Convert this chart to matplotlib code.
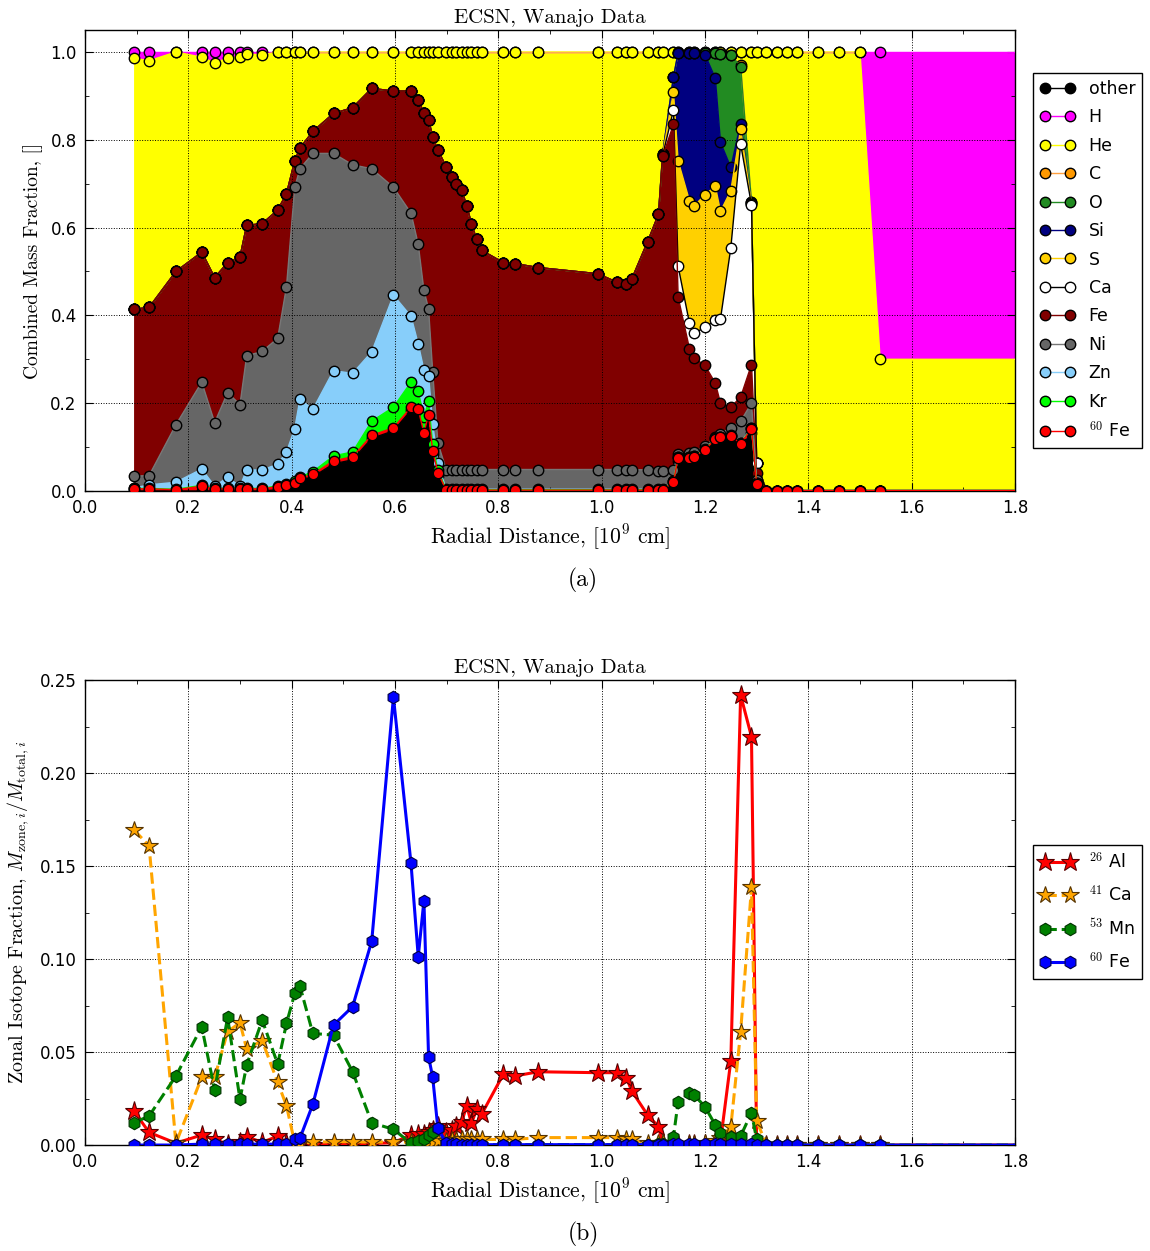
import numpy as np
import matplotlib
matplotlib.use("Agg")
import matplotlib.pyplot as plt
from matplotlib.ticker import AutoMinorLocator

plt.rcParams['mathtext.fontset'] = 'cm'
plt.rcParams['font.family'] = ['DejaVu Sans']
SERIF = 'cmr10'

# zone radii [1e9 cm]; last entry is the outer boundary (no marker)
radius = [0.095, 0.124, 0.176, 0.226, 0.251, 0.276, 0.300, 0.313, 0.343, 0.373,
          0.390, 0.406, 0.416, 0.441, 0.481, 0.518, 0.555, 0.597, 0.631, 0.645,
          0.656, 0.665, 0.673, 0.683, 0.699, 0.710, 0.719, 0.729, 0.739, 0.748,
          0.758, 0.768, 0.810, 0.832, 0.877, 0.992, 1.029, 1.048, 1.058, 1.089,
          1.110, 1.118, 1.139, 1.148, 1.170, 1.179, 1.200, 1.220, 1.230, 1.250,
          1.269, 1.290, 1.300, 1.319, 1.340, 1.359, 1.379, 1.419, 1.460, 1.500,
          1.539, 1.800]

# cumulative (stacked) mass fraction tops, panel (a)
top_other = [0, 0, 0, 0, 0, 0, 0, 0, 0, 0.003,
             0.008, 0.015, 0.024, 0.032, 0.062, 0.071, 0.120, 0.137, 0.184, 0.180,
             0.125, 0.167, 0.085, 0.035, 0, 0, 0, 0, 0, 0,
             0, 0, 0, 0, 0, 0, 0, 0, 0, 0,
             0, 0, 0.015, 0.068, 0.068, 0.070, 0.085, 0.110, 0.113, 0.116,
             0.100, 0.132, 0.010, 0, 0, 0, 0, 0, 0, 0,
             0, 0]
top_fe60 = [0.005, 0.005, 0.003, 0.011, 0.005, 0.005, 0.005, 0.005, 0.005, 0.010,
            0.014, 0.019, 0.029, 0.038, 0.069, 0.078, 0.127, 0.144, 0.191, 0.186,
            0.132, 0.174, 0.091, 0.042, 0.002, 0.002, 0.002, 0.002, 0.002, 0.002,
            0.002, 0.002, 0.002, 0.002, 0.002, 0.002, 0.002, 0.002, 0.002, 0.002,
            0.002, 0.002, 0.021, 0.076, 0.076, 0.078, 0.093, 0.119, 0.122, 0.125,
            0.108, 0.142, 0.017, 0.001, 0.001, 0.001, 0.001, 0.001, 0.001, 0.001,
            0.001, 0.001]
top_kr = [0.006, 0.006, 0.004, 0.013, 0.006, 0.006, 0.006, 0.006, 0.006, 0.012,
          0.016, 0.022, 0.032, 0.044, 0.080, 0.089, 0.159, 0.191, 0.248, 0.227,
          0.169, 0.204, 0.106, 0.048, 0.003, 0.003, 0.003, 0.003, 0.003, 0.003,
          0.003, 0.003, 0.003, 0.003, 0.003, 0.003, 0.003, 0.003, 0.003, 0.003,
          0.003, 0.003, 0.022, 0.077, 0.077, 0.079, 0.094, 0.120, 0.123, 0.126,
          0.109, 0.143, 0.018, 0.001, 0.001, 0.001, 0.001, 0.001, 0.001, 0.001,
          0.001, 0.001]
top_zn = [0.007, 0.014, 0.020, 0.050, 0.011, 0.031, 0.011, 0.048, 0.048, 0.061,
          0.089, 0.142, 0.209, 0.186, 0.274, 0.268, 0.317, 0.446, 0.398, 0.335,
          0.276, 0.263, 0.153, 0.064, 0.004, 0.004, 0.004, 0.004, 0.004, 0.004,
          0.004, 0.004, 0.004, 0.004, 0.004, 0.004, 0.004, 0.004, 0.004, 0.004,
          0.004, 0.004, 0.023, 0.078, 0.078, 0.080, 0.095, 0.121, 0.124, 0.127,
          0.110, 0.144, 0.019, 0.001, 0.001, 0.001, 0.001, 0.001, 0.001, 0.001,
          0.001, 0.001]
top_ni = [0.034, 0.035, 0.151, 0.248, 0.156, 0.224, 0.197, 0.308, 0.318, 0.348,
          0.465, 0.692, 0.734, 0.769, 0.769, 0.743, 0.734, 0.692, 0.633, 0.562,
          0.457, 0.415, 0.271, 0.110, 0.049, 0.049, 0.049, 0.049, 0.049, 0.049,
          0.049, 0.049, 0.049, 0.049, 0.049, 0.049, 0.049, 0.049, 0.049, 0.048,
          0.046, 0.045, 0.048, 0.085, 0.087, 0.089, 0.102, 0.122, 0.131, 0.144,
          0.159, 0.200, 0.025, 0.001, 0.001, 0.001, 0.001, 0.001, 0.001, 0.001,
          0.001, 0.001]
top_fe = [0.414, 0.418, 0.500, 0.544, 0.486, 0.520, 0.533, 0.605, 0.609, 0.640,
          0.677, 0.752, 0.781, 0.819, 0.860, 0.873, 0.917, 0.911, 0.911, 0.890,
          0.862, 0.845, 0.807, 0.776, 0.739, 0.715, 0.700, 0.686, 0.649, 0.609,
          0.573, 0.548, 0.520, 0.518, 0.509, 0.495, 0.476, 0.471, 0.482, 0.568,
          0.630, 0.762, 0.835, 0.442, 0.324, 0.303, 0.286, 0.246, 0.200, 0.191,
          0.214, 0.288, 0.040, 0.001, 0.001, 0.001, 0.001, 0.001, 0.001, 0.001,
          0.001, 0.001]
# the intermediate-mass elements only show up in zones 41..52 (r = 1.118 .. 1.300)
core_first = 41
core_ca = [0.764, 0.868, 0.512, 0.382, 0.359, 0.373, 0.389, 0.392, 0.554, 0.790, 0.652, 0.063]
core_s = [0.766, 0.909, 0.752, 0.661, 0.649, 0.675, 0.694, 0.637, 0.684, 0.825, 0.654, 0.063]
core_si = [0.768, 0.943, 0.998, 0.998, 0.998, 0.994, 0.940, 0.794, 0.737, 0.837, 0.656, 0.063]
core_o = [0.768, 0.943, 0.998, 0.998, 0.998, 0.998, 0.998, 0.996, 0.994, 0.966, 0.658, 0.063]
core_c = [0.768, 0.943, 0.998, 0.998, 0.998, 0.998, 0.998, 0.996, 0.994, 0.970, 0.658, 0.063]
top_he = [0.986, 0.980, 1.000, 0.988, 0.975, 0.986, 0.989, 0.996, 0.993, 1.000] + [1.0] * 50 + [0.300, 0.300]
top_h = [1.0] * 62

# zonal isotope fractions, panel (b)
al26 = [0.0183, 0.0068, 0.0010, 0.0054, 0.0030, 0.0005, 0.0018, 0.0045, 0.0014, 0.0048,
        0.0010, 0.0003, 0.0003, 0.0002, 0.0003, 0.0005, 0.0008, 0.0013, 0.0054, 0.0060,
        0.0060, 0.0070, 0.0080, 0.0100, 0.0070, 0.0083, 0.0100, 0.0125, 0.0210, 0.0116,
        0.0192, 0.0167, 0.0382, 0.0371, 0.0394, 0.0389, 0.0389, 0.0362, 0.0292, 0.0161,
        0.0099, 0.0010, 0.0005, 0.0003, 0.0003, 0.0003, 0.0005, 0.0010, 0.0020, 0.0453,
        0.2419, 0.2195, 0.0, 0, 0, 0, 0, 0, 0, 0,
        0, 0]
ca41 = [0.1694, 0.1609, 0.0010, 0.0364, 0.0364, 0.0609, 0.0658, 0.0516, 0.0561, 0.0337,
        0.0211, 0.0010, 0.0010, 0.0015, 0.0018, 0.0018, 0.0015, 0.0018, 0.0015, 0.0015,
        0.0015, 0.0015, 0.0015, 0.0020, 0.0020, 0.0025, 0.0028, 0.0030, 0.0030, 0.0030,
        0.0030, 0.0030, 0.0030, 0.0030, 0.0040, 0.0040, 0.0040, 0.0030, 0.0030, 0.0010,
        0.0010, 0.0010, 0.0005, 0.0005, 0.0005, 0.0005, 0.0010, 0.0020, 0.0036, 0.0099,
        0.0609, 0.1385, 0.0131, 0, 0, 0, 0, 0, 0, 0,
        0, 0]
mn53 = [0.0120, 0.0156, 0.0371, 0.0636, 0.0296, 0.0686, 0.0246, 0.0430, 0.0672, 0.0435,
        0.0654, 0.0815, 0.0855, 0.0600, 0.0591, 0.0394, 0.0120, 0.0084, 0.0010, 0.0023,
        0.0030, 0.0054, 0.0072, 0.0090, 0.0010, 0.0003, 0.0002, 0.0002, 0.0002, 0.0002,
        0.0002, 0.0002, 0.0002, 0.0002, 0.0002, 0.0002, 0.0002, 0.0002, 0.0002, 0.0002,
        0.0003, 0.0005, 0.0045, 0.0233, 0.0278, 0.0269, 0.0206, 0.0108, 0.0063, 0.0045,
        0.0048, 0.0174, 0.0030, 0, 0, 0, 0, 0, 0, 0,
        0, 0]
fe60 = [0, 0, 0, 0.0005, 0.0005, 0.0005, 0.0005, 0.0005, 0.0005, 0.0005,
        0.0005, 0.0030, 0.0036, 0.0219, 0.0645, 0.0744, 0.1097, 0.2407, 0.1514, 0.1013,
        0.1314, 0.0475, 0.0364, 0.0090, 0.0010, 0.0005, 0.0003, 0.0002, 0.0002, 0.0002,
        0.0002, 0.0002, 0.0002, 0.0002, 0.0002, 0.0002, 0.0002, 0.0002, 0.0002, 0.0002,
        0.0002, 0.0002, 0.0003, 0.0005, 0.0005, 0.0005, 0.0005, 0.0005, 0.0005, 0.0005,
        0.0005, 0.0007, 0.0001, 0, 0, 0, 0, 0, 0, 0,
        0, 0]

x = np.array(radius)


def with_core(base, core):
    arr = np.array(base, dtype=float)
    arr[core_first:core_first + len(core)] = core
    return arr


top_ca = with_core(top_fe, core_ca)
top_s = with_core(top_fe, core_s)
top_si = with_core(top_fe, core_si)
top_o = with_core(top_fe, core_o)
top_c = with_core(top_fe, core_c)

# stacking order (bottom -> top), with fill and line colours
stack = [("other", top_other, "black", "black"),
         (r"$^{60}$ Fe", top_fe60, "red", "red"),
         ("Kr", top_kr, "#00ff00", "#00ff00"),
         ("Zn", top_zn, "#87cefa", "#87cefa"),
         ("Ni", top_ni, "#666666", "#777777"),
         ("Fe", top_fe, "#800000", "#800000"),
         ("Ca", top_ca, "white", "black"),
         ("S", top_s, "#ffd000", "#ffd000"),
         ("Si", top_si, "#000080", "#000080"),
         ("O", top_o, "#228b22", "#228b22"),
         ("C", top_c, "#ff9900", "#ffa040"),
         ("He", top_he, "#ffff00", "#ffff00"),
         ("H", top_h, "#ff00ff", "#ff00ff")]

fig = plt.figure(figsize=(11.5, 12.51), dpi=100)
ax1 = fig.add_axes([0.0739, 0.6075, 0.8087, 0.3685])
ax2 = fig.add_axes([0.0739, 0.0847, 0.8087, 0.3717])

# fills first
lower = np.zeros(len(x))
for name, top, fc, lc in stack:
    top = np.array(top, dtype=float)
    ax1.fill_between(x, lower, top, facecolor=fc, linewidth=0, zorder=1)
    lower = top

# boundary lines in legend order
handles = {}
legend_order = ["other", "H", "He", "C", "O", "Si", "S", "Ca", "Fe", "Ni", "Zn", "Kr", r"$^{60}$ Fe"]
for name in legend_order:
    for nm, top, fc, lc in stack:
        if nm == name:
            ln, = ax1.plot(x, top, '-', color=lc, lw=1.0, marker='o', ms=7.5,
                           mfc=fc, mec='black', mew=1.0, markevery=slice(0, -1),
                           zorder=3, label=name)
            handles[name] = ln

ax1.set_xlim(0, 1.8)
ax1.set_ylim(0, 1.05)
ax1.set_yticks(np.arange(0, 1.01, 0.2))
ax1.set_title("ECSN, Wanajo Data", fontfamily=SERIF, fontsize=15, pad=5)
ax1.set_xlabel(r"Radial Distance, [$10^9$ cm]", fontfamily=SERIF, fontsize=15.5, labelpad=4)
ax1.set_ylabel("Combined Mass Fraction, []", fontfamily=SERIF, fontsize=14, labelpad=5)
leg1 = ax1.legend([handles[n] for n in legend_order], legend_order,
                  loc='upper left', bbox_to_anchor=(0.8983, 0.9416),
                  bbox_transform=fig.transFigure, borderaxespad=0, numpoints=2,
                  fontsize=12.5, labelspacing=0.6, handlelength=2.0,
                  fancybox=False, framealpha=1, edgecolor='black')
leg1.get_frame().set_linewidth(1.0)

# panel (b)
ax2.plot(x, al26, '-', color='red', lw=2.2, marker='*', ms=14, mfc='red',
         mec='#550000', mew=0.8, markevery=slice(0, -1), label=r"$^{26}$ Al", zorder=3)
ax2.plot(x, ca41, '--', color='orange', lw=2.2, marker='*', ms=13, mfc='orange',
         mec='#553300', mew=0.8, markevery=slice(0, -1), label=r"$^{41}$ Ca", zorder=3)
ax2.plot(x, mn53, '--', color='green', lw=2.2, marker='h', ms=9, mfc='green',
         mec='#003300', mew=0.8, markevery=slice(0, -1), label=r"$^{53}$ Mn", zorder=3)
ax2.plot(x, fe60, '-', color='blue', lw=2.2, marker='h', ms=9, mfc='blue',
         mec='#000044', mew=0.8, markevery=slice(0, -1), label=r"$^{60}$ Fe", zorder=3)
ax2.set_xlim(0, 1.8)
ax2.set_ylim(0, 0.25)
ax2.set_yticks(np.arange(0, 0.251, 0.05))
ax2.yaxis.set_major_formatter(plt.FormatStrFormatter('%.2f'))
ax2.set_title("ECSN, Wanajo Data", fontfamily=SERIF, fontsize=15, pad=5)
ax2.set_xlabel(r"Radial Distance, [$10^9$ cm]", fontfamily=SERIF, fontsize=15.5, labelpad=4)
ax2.set_ylabel(r"Zonal Isotope Fraction, $M_{\mathrm{zone},i}/M_{\mathrm{total},i}$",
               fontfamily=SERIF, fontsize=14.5, labelpad=6)
leg2 = ax2.legend(loc='upper left', bbox_to_anchor=(0.8983, 0.3245),
                  bbox_transform=fig.transFigure, borderaxespad=0, numpoints=2,
                  fontsize=12.5, labelspacing=0.75, handlelength=2.0,
                  fancybox=False, framealpha=1, edgecolor='black')
leg2.get_frame().set_linewidth(1.0)

for ax in (ax1, ax2):
    ax.set_xticks(np.arange(0, 1.81, 0.2))
    ax.xaxis.set_major_formatter(plt.FormatStrFormatter('%.1f'))
    ax.xaxis.set_minor_locator(AutoMinorLocator(2))
    ax.yaxis.set_minor_locator(AutoMinorLocator(2))
    ax.tick_params(which='both', direction='in', top=True, right=True, labelsize=12)
    ax.tick_params(which='major', length=6, pad=6)
    ax.tick_params(which='minor', length=3)
    ax.grid(True, which='major', color='black', linestyle=':', linewidth=0.7, zorder=2)
    ax.set_axisbelow(False)
    for sp in ax.spines.values():
        sp.set_linewidth(1.0)

ax1.yaxis.set_major_formatter(plt.FormatStrFormatter('%.1f'))

fig.text(0.507, 1 - 580 / 1251, "(a)", fontfamily=SERIF, fontsize=17, ha='center', va='center')
fig.text(0.507, 1 - 1234 / 1251, "(b)", fontfamily=SERIF, fontsize=17, ha='center', va='center')

fig.savefig("out.png", dpi=100)
